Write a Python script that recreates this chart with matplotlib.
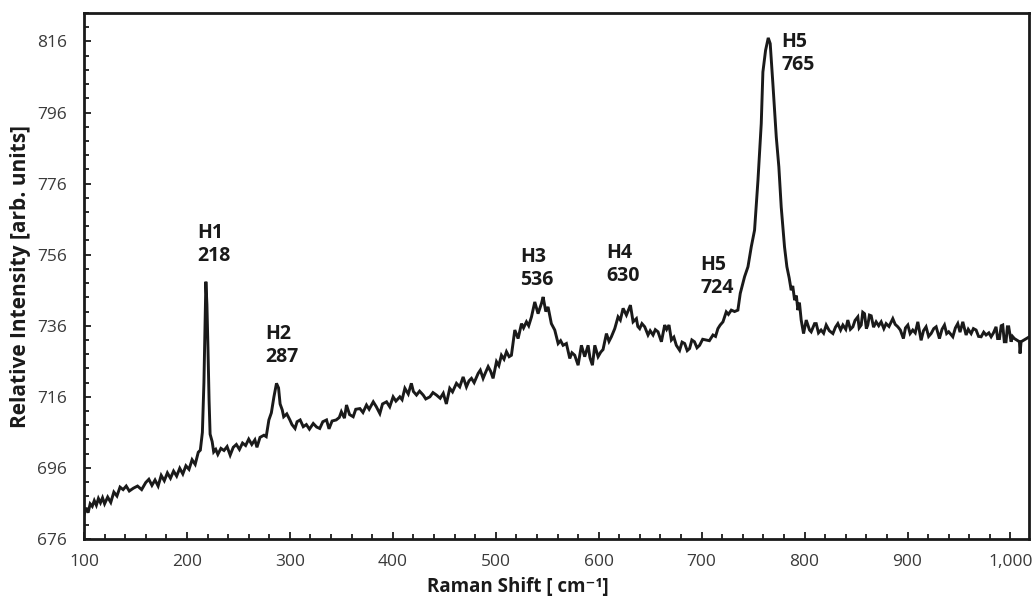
import matplotlib
matplotlib.use('Agg')
import matplotlib.pyplot as plt
from matplotlib.ticker import MultipleLocator, FuncFormatter

plt.rcParams['font.family'] = ['Open Sans', 'DejaVu Sans']

raman_shift = [
    100, 102, 104, 106, 108, 110, 112, 114, 116, 118, 120, 123, 126, 129, 132, 135, 138, 141, 144, 148,
    152, 156, 160, 163, 166, 169, 172, 175, 178, 181, 184, 187, 190, 193, 196, 199, 202, 205, 208, 211,
    213, 215, 216.5, 217.5, 218.4, 219.4, 220.4, 221.5, 222.5, 224.5, 226, 228, 230, 233, 236, 239, 242, 245,
    248, 251, 254, 257, 260, 263, 266, 268, 271, 274.8, 277, 279.6, 282, 284.5, 287, 289, 290.5, 292.6,
    294, 297, 300, 302, 305, 307, 310, 313, 316, 319, 322.7, 326, 329, 332, 335.6, 338, 341, 345, 348,
    350, 353, 355, 358, 361.5, 364, 368, 371, 374.4, 377, 381, 384, 387.4, 390, 393.9, 397, 400.3, 403,
    406.8, 409, 411.7, 415, 418, 420, 423, 426, 429.5, 432, 436, 439, 442.4, 446, 449, 452, 455.3, 458,
    461.8, 465, 468.3, 471.5, 474, 476.4, 479, 482.9, 485, 487.7, 490, 492.6, 495, 497.4, 500.7, 503,
    505.5, 508, 510.4, 513, 515.2, 518.5, 521.7, 525, 527, 529.8, 532, 534.7, 537.9, 541.1, 544.4, 546,
    548.6, 550.8, 554, 557.3, 560.6, 563, 565.4, 568.6, 571.9, 574, 576.7, 580, 583.2, 586.4, 589.7,
    591.5, 593.9, 596.2, 599.4, 602, 604.2, 607.5, 610, 612.3, 615.6, 618.8, 621, 623.7, 626.9, 630.8,
    633.4, 636.6, 638, 639.8, 642, 644.7, 647.9, 650, 652.8, 655, 657.6, 660.9, 664.1, 666, 668.3, 670.6,
    673, 675.4, 678.6, 681, 683.5, 686, 688.3, 690.5, 693, 695.5, 698, 701, 704.5, 707.5, 711, 713.5,
    715.8, 718, 720.7, 723.9, 726, 728.8, 732, 735.2, 737.5, 741.7, 745, 748.2, 751.4, 754.7, 757.9,
    759.5, 762.1, 764.7, 766.6, 769.2, 772.5, 775, 777.3, 780.5, 782.8, 785, 787, 788.5, 790.3, 792,
    793.5, 795, 796.7, 799, 801.6, 804.8, 806.4, 809.7, 811.3, 813.5, 816, 818.5, 821, 824, 827.5, 830,
    832.3, 835, 837.2, 840, 842, 844.5, 846.9, 849, 851.7, 853, 855, 856.5, 858.2, 860, 861.4, 863,
    864.7, 867, 869.5, 872, 874.4, 877, 879.2, 882, 885.7, 888, 890.6, 893, 896, 898, 900.3, 902.5,
    905.1, 907.5, 910, 913.2, 915.5, 918, 920.5, 922.9, 925.5, 927.8, 931, 933.5, 935.9, 938, 940, 944,
    946.5, 948.8, 951, 953.7, 956.9, 959, 961.8, 964, 966.6, 969, 971.5, 974, 976.3, 979, 981.2, 983.5,
    986, 987.5, 989.3, 991, 992.5, 994, 995.7, 997, 998.3, 1000.6, 1002, 1003.8, 1006, 1008.7, 1009.3,
    1010.3, 1018.4,
]

intensity = [
    682.7, 684.8, 683.4, 685.9, 685.2, 686.8, 685.5, 687.4, 686.2, 687.6, 685.9, 687.8, 686.3, 689.2, 688.1, 690.6, 689.9, 690.9, 689.5, 690.3,
    690.9, 689.9, 691.9, 692.8, 691.1, 692.6, 690.9, 693.9, 692.4, 694.6, 693.1, 695.1, 693.7, 695.9, 694.3, 696.6, 695.6, 698.3, 697.0, 700.4,
    701.0, 706.0, 720.0, 735.0, 748.4, 742.0, 730.0, 715.0, 705.5, 703.4, 700.5, 701.2, 699.8, 701.5, 700.9, 702.0, 699.6, 701.8,
    702.6, 701.2, 703.0, 702.3, 704.1, 702.6, 703.9, 701.8, 704.6, 705.2, 704.8, 709.5, 711.5, 716.0, 719.8, 718.5, 714.0, 712.3,
    710.4, 711.2, 709.5, 708.2, 707.1, 709.0, 709.5, 707.6, 708.2, 706.9, 708.5, 707.5, 707.1, 709.0, 709.5, 707.0, 709.2, 709.5, 710.2,
    711.8, 710.0, 713.7, 711.0, 710.4, 712.5, 712.7, 711.6, 713.7, 712.5, 714.6, 713.2, 711.3, 714.0, 714.6, 713.2, 716.0, 714.8,
    716.0, 715.2, 718.4, 716.8, 719.8, 717.5, 716.5, 717.6, 716.5, 715.4, 716.0, 717.2, 716.5, 715.6, 717.0, 714.0, 718.4, 717.4,
    719.8, 718.8, 721.6, 718.8, 720.5, 721.2, 720.0, 722.6, 723.5, 721.2, 722.8, 724.5, 723.2, 721.2, 725.9, 724.8,
    727.7, 726.6, 728.7, 727.3, 727.7, 734.8, 732.4, 736.6, 735.4, 737.1, 736.0, 738.5, 742.7, 739.4, 742.3, 744.1,
    740.0, 741.3, 736.6, 734.8, 731.0, 731.8, 730.5, 731.0, 726.8, 728.4, 727.7, 724.9, 730.5, 727.3, 730.5,
    727.0, 724.9, 730.5, 727.3, 728.6, 729.3, 733.8, 731.6, 732.9, 735.2, 738.5, 737.6, 740.9, 739.0, 741.8,
    737.1, 738.0, 735.8, 735.2, 736.6, 735.7, 733.4, 734.6, 733.4, 734.9, 734.3, 731.5, 736.2, 735.0, 736.2, 732.0,
    732.8, 730.5, 729.1, 731.4, 731.0, 729.0, 729.6, 732.0, 731.5, 729.8, 730.5, 732.2, 732.0, 731.8, 733.4, 733.0,
    735.2, 736.2, 737.1, 739.9, 739.2, 740.4, 740.0, 740.4, 745.1, 749.8, 752.6, 758.2, 762.9, 776.9, 792.9,
    807.4, 813.5, 817.0, 815.4, 804.1, 789.1, 780.7, 769.4, 758.2, 752.6, 749.5, 746.0, 747.2, 743.2, 744.5,
    740.4, 742.5, 737.6, 733.8, 737.6, 734.8, 734.3, 736.6, 736.6, 734.0, 734.8, 733.9, 736.2, 734.6, 733.8, 735.6,
    736.6, 734.8, 736.2, 735.0, 737.6, 735.0, 735.7, 737.5, 738.5, 735.4, 736.2, 739.8, 739.4, 735.2, 736.2, 739.0,
    738.8, 735.6, 737.1, 736.0, 737.1, 735.2, 736.6, 735.8, 738.0, 736.4, 735.7, 734.8, 732.4, 735.4, 736.2, 733.8,
    734.8, 734.0, 737.1, 731.9, 734.6, 735.7, 733.0, 733.8, 735.2, 735.7, 732.4, 735.0, 736.2, 733.8, 734.3, 732.9,
    735.4, 736.6, 734.2, 737.1, 733.4, 735.0, 733.8, 735.2, 734.8, 733.0, 732.9, 734.2, 733.4, 734.0, 732.9, 734.0,
    735.7, 732.4, 732.4, 736.0, 736.2, 731.5, 731.5, 735.7, 735.7, 731.5, 733.0, 732.4, 732.0, 731.5, 728.2,
    731.5, 732.9,
]

peak_labels = ["H1\n218", "H2\n287", "H3\n536", "H4\n630", "H5\n724", "H5\n765"]
label_x = [209.7, 276.4, 523.3, 607.5, 699.0, 777.4]
label_y = [765.0, 736.4, 758.3, 759.4, 756.0, 818.7]

x_ticks = [100, 200, 300, 400, 500, 600, 700, 800, 900, 1000]
y_ticks = [676, 696, 716, 736, 756, 776, 796, 816]

fig = plt.figure(figsize=(10.34, 6.01), dpi=100)
ax = fig.add_axes([84 / 1034, 1 - 539 / 601, 945 / 1034, 526 / 601])

ax.plot(raman_shift, intensity, color='#1a1a1a', lw=2.1, solid_joinstyle='miter')

for txt, lx, ly in zip(peak_labels, label_x, label_y):
    ax.text(lx, ly, txt, ha='left', va='top', fontsize=14, fontweight='bold',
            color='#1a1a1a', linespacing=1.2)

ax.set_xlim(100, 1018)
ax.set_ylim(676, 824)
ax.set_xticks(x_ticks)
ax.set_yticks(y_ticks)
ax.xaxis.set_minor_locator(MultipleLocator(20))
ax.yaxis.set_minor_locator(MultipleLocator(4))
ax.xaxis.set_major_formatter(FuncFormatter(lambda v, p: f"{v:,.0f}"))

ax.tick_params(which='both', direction='in', top=False, right=False, width=1.3, color='#1a1a1a')
ax.tick_params(which='major', length=5, labelsize=12.5, labelcolor='#3a3a3a')
ax.tick_params(axis='y', which='major', pad=12)
ax.tick_params(axis='x', which='major', pad=11)
ax.tick_params(which='minor', length=3.5)

for s in ax.spines.values():
    s.set_linewidth(2.0)
    s.set_color('#1a1a1a')

ax.set_xlabel("Raman Shift [ cm\u207b\u00b9]", fontsize=13.5, fontweight='bold', color='#1a1a1a')
ax.xaxis.set_label_coords(0.459, -0.072)
ax.set_ylabel("Relative Intensity [arb. units]", fontsize=15, fontweight='bold', color='#1a1a1a')
ax.yaxis.set_label_coords(-0.056, 0.5)

fig.savefig('out.png', dpi=100)
